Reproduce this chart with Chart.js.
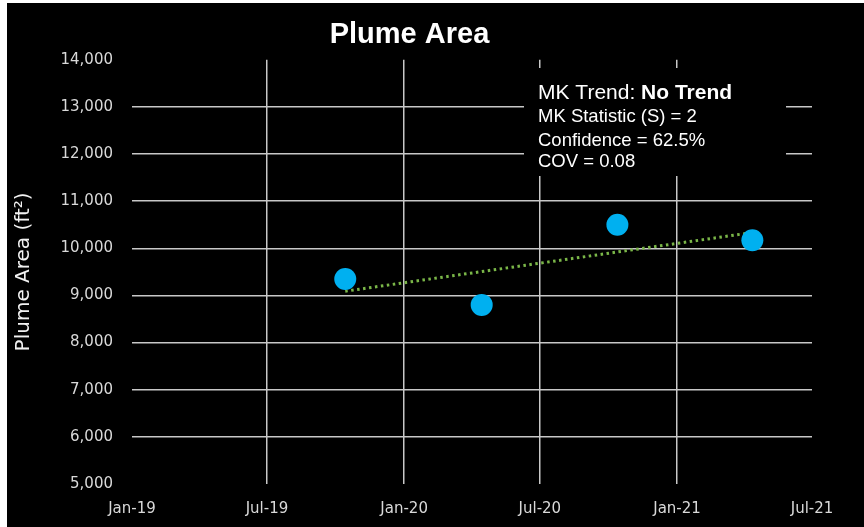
<!DOCTYPE html>
<html>
<head>
<meta charset="utf-8">
<script src="https://cdn.jsdelivr.net/npm/chart.js@4.4.1/dist/chart.umd.min.js"></script>
<style>
  html, body { margin: 0; padding: 0; background: #ffffff; }
  #wrap { position: absolute; left: 7px; top: 3px; width: 857px; height: 524px; background: #000000; }
</style>
</head>
<body>
<div id="wrap"><canvas id="plumeChart"></canvas></div>
<script>
// sample dates and plume area (ft2)
const sampleDates = ["2019-10-14", "2020-04-14", "2020-10-13", "2021-04-12"];
const plumeArea = [9350, 8800, 10500, 10170];

// linear trend line end points (as drawn)
const trendDates = ["2019-10-14", "2021-04-12"];
const trendValues = [9090, 10335];

// axis ticks
const xTickDates = ["2019-01-01", "2019-07-01", "2020-01-01", "2020-07-01", "2021-01-01", "2021-07-01"];
const xTickLabels = ["Jan-19", "Jul-19", "Jan-20", "Jul-20", "Jan-21", "Jul-21"];
const yTickValues = [5000, 6000, 7000, 8000, 9000, 10000, 11000, 12000, 13000, 14000];

// Mann-Kendall text box
const mkLines = [
  ["MK Trend: ", "No Trend"],
  ["MK Statistic (S) = 2"],
  ["Confidence = 62.5%"],
  ["COV = 0.08"],
];

const gridColor = "#c8c8c8";
const tickColor = "#d9d9d9";

function innerGrid(ctx, count) {
  // no grid line on the first and last tick
  if (ctx.index === 0 || ctx.index === count - 1) return "rgba(0,0,0,0)";
  return gridColor;
}

// draws the black text box with the MK results
const mkBox = {
  id: "mkBox",
  beforeDatasetsDraw(chart) {
    const c = chart.ctx;
    c.save();
    c.fillStyle = "#000000";
    c.fillRect(517, 65, 262, 108);
    c.fillStyle = "#ffffff";
    c.textBaseline = "alphabetic";
    const baselines = [96, 118.5, 142.5, 164];
    mkLines.forEach((parts, i) => {
      let x = 531;
      const size = i === 0 ? 21 : 18.5;
      parts.forEach((txt, j) => {
        c.font = (i === 0 && j === 1 ? "bold " : "") + size + "px 'Liberation Sans', Arial, sans-serif";
        c.fillText(txt, x, baselines[i]);
        x += c.measureText(txt).width;
      });
    });
    c.restore();
  },
};

const ctx = document.getElementById("plumeChart").getContext("2d");

new Chart(ctx, {
  type: "scatter",
  data: {
    datasets: [
      {
        label: "Trend",
        type: "line",
        data: trendDates.map((d, i) => ({ x: Date.parse(d), y: trendValues[i] })),
        borderColor: "#7ab648",
        borderWidth: 3,
        borderDash: [2.5, 3.5],
        pointRadius: 0,
        fill: false,
        order: 2,
      },
      {
        label: "Plume Area",
        data: sampleDates.map((d, i) => ({ x: Date.parse(d), y: plumeArea[i] })),
        backgroundColor: "#00b0f0",
        borderWidth: 0,
        pointRadius: 11,
        pointHoverRadius: 11,
        order: 1,
      },
    ],
  },
  options: {
    responsive: true,
    maintainAspectRatio: false,
    animation: false,
    events: [],
    layout: { padding: { left: 0, right: 52, top: 0, bottom: 0 } },
    plugins: {
      legend: { display: false },
      tooltip: { enabled: false },
      title: {
        display: true,
        text: "Plume Area",
        color: "#ffffff",
        font: { family: "'Liberation Sans', Arial, sans-serif", size: 29, weight: "bold" },
        padding: { top: 15, bottom: 7 },
      },
    },
    scales: {
      x: {
        type: "linear",
        min: Date.parse(xTickDates[0]),
        max: Date.parse(xTickDates[xTickDates.length - 1]),
        afterBuildTicks: (scale) => {
          scale.ticks = xTickDates.map((d) => ({ value: Date.parse(d) }));
        },
        afterFit: (scale) => {
          scale.height = 43;
        },
        ticks: {
          color: tickColor,
          font: { family: "'DejaVu Sans', sans-serif", size: 15 },
          padding: 16,
          maxRotation: 0,
          autoSkip: false,
          callback: (value, index) => xTickLabels[index],
        },
        grid: {
          color: (c) => innerGrid(c, xTickDates.length),
          lineWidth: 1.5,
          drawTicks: false,
        },
        border: { display: false },
      },
      y: {
        min: yTickValues[0],
        max: yTickValues[yTickValues.length - 1],
        afterBuildTicks: (scale) => {
          scale.ticks = yTickValues.map((v) => ({ value: v }));
        },
        afterFit: (scale) => {
          scale.width = 125;
        },
        ticks: {
          color: tickColor,
          font: { family: "'DejaVu Sans', sans-serif", size: 15 },
          padding: 19,
          callback: (value) => value.toLocaleString("en-US"),
        },
        grid: {
          color: (c) => innerGrid(c, yTickValues.length),
          lineWidth: 1.5,
          drawTicks: false,
        },
        border: { display: false },
        title: {
          display: true,
          text: "Plume Area (ft²)",
          color: "#f2f2f2",
          font: { family: "'DejaVu Sans', sans-serif", size: 20 },
          padding: { top: 5, bottom: 0 },
        },
      },
    },
  },
  plugins: [mkBox],
});
</script>
</body>
</html>
